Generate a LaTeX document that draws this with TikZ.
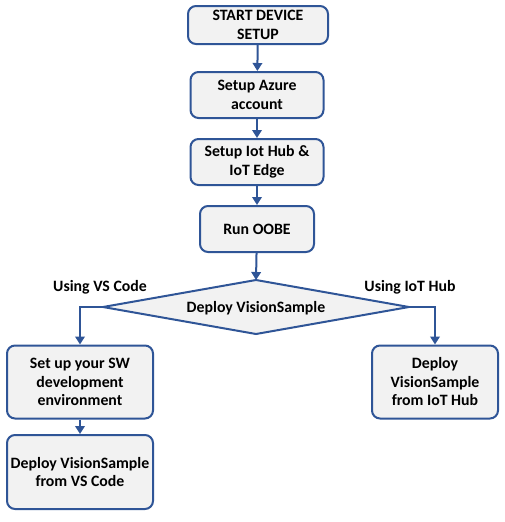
\documentclass[tikz,border=0pt]{standalone}
\usepackage{fontspec}
\setmainfont{Carlito}
\usetikzlibrary{arrows.meta}
\definecolor{bordblue}{HTML}{2F5597}
\definecolor{boxfill}{HTML}{F2F2F2}
\tikzset{
  txt/.style={font=\fontsize{15.8}{18.5}\selectfont\bfseries},
  stepbox/.style={draw=bordblue, line width=2pt, fill=boxfill, rounded corners=8pt,
    align=center, txt, inner sep=1pt},
  decide/.style={draw=bordblue, line width=2pt, fill=boxfill, line join=miter},
  flow/.style={draw=bordblue, line width=2pt, -{Triangle[length=8pt,width=9.5pt]}},
  lbl/.style={txt}
}
\begin{document}
\begin{tikzpicture}[x=1pt,y=-1pt]
\useasboundingbox (0,0) rectangle (504,522);
\node[stepbox, minimum width=140pt, minimum height=38pt] (b1) at (258,25) {START DEVICE\\SETUP};
\node[stepbox, minimum width=133pt, minimum height=46pt] (b2) at (257,95) {Setup Azure\\account};
\node[stepbox, minimum width=133pt, minimum height=46pt] (b3) at (257,162) {Setup Iot Hub \&\\IoT Edge};
\node[stepbox, minimum width=114pt, minimum height=46pt] (b4) at (257,229) {Run OOBE};
\coordinate (dt) at (256,280);
\coordinate (db) at (256,334);
\coordinate (dl) at (103,307);
\coordinate (dr) at (409,307);
\draw[decide] (dt) -- (dr) -- (db) -- (dl) -- cycle;
\node[txt] (d) at (256,308) {Deploy VisionSample};
\node[stepbox, minimum width=146pt, minimum height=73pt] (b5) at (80,382) {Set up your SW\\development\\environment};
\node[stepbox, minimum width=126pt, minimum height=73pt] (b6) at (435,382) {Deploy\\VisionSample\\from IoT Hub};
\node[stepbox, minimum width=146pt, minimum height=74pt] (b7) at (80,472) {Deploy VisionSample\\from VS Code};
\node[lbl] (l1) at (100,287) {Using VS Code};
\node[lbl] (l2) at (410,287) {Using IoT Hub};
\draw[flow] (b1) -- (b2);
\draw[flow] (b2) -- (b3);
\draw[flow] (b3) -- (b4);
\draw[flow] (b4) -- (dt);
\draw[flow] (dl) -| (b5.north);
\draw[flow] (dr) -| (b6.north);
\draw[flow] (b5) -- (b7);
\end{tikzpicture}
\end{document}
